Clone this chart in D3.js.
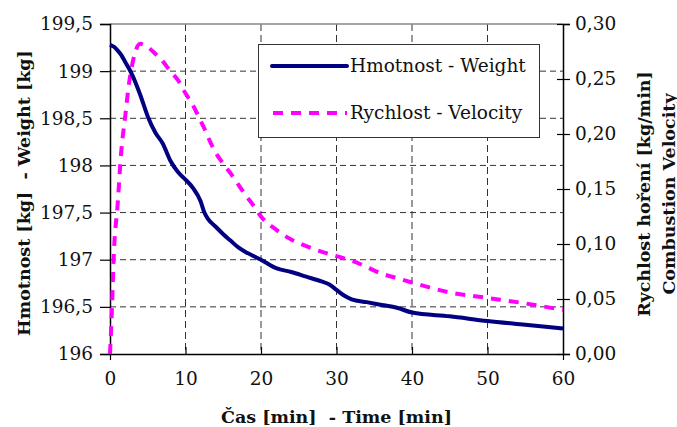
<!DOCTYPE html>
<html>
<head>
<meta charset="utf-8">
<script src="https://cdn.jsdelivr.net/npm/d3@7/dist/d3.min.js"></script>
<style>
  html, body { margin: 0; padding: 0; background: #fff; }
  svg { display: block; font-family: "DejaVu Serif", "Liberation Serif", serif; }
  text { white-space: pre; }
</style>
</head>
<body>
<svg id="chart" width="677" height="427"></svg>
<script>
// Burning test: sample weight and combustion velocity over time
const timeMin = [0, 0.25, 0.5, 1, 1.5, 2, 2.5, 3, 4, 5, 6, 7, 8, 9, 10, 11, 12, 12.5, 13, 14, 15, 16, 17, 18, 19, 20,
                 22, 24, 26, 28, 29, 30, 31, 32, 34, 36, 38, 40, 45, 50, 55, 60];
const weightKg = [199.28, 199.27, 199.26, 199.22, 199.17, 199.10, 199.03, 198.95, 198.75, 198.52, 198.35, 198.23,
                  198.05, 197.93, 197.85, 197.76, 197.62, 197.50, 197.43, 197.35, 197.27, 197.20, 197.13, 197.08,
                  197.04, 197.00, 196.91, 196.87, 196.82, 196.77, 196.74, 196.68, 196.62, 196.58, 196.55, 196.52,
                  196.49, 196.44, 196.40, 196.35, 196.31, 196.27];
const velocity = [0.000, 0.040, 0.090, 0.135, 0.185, 0.215, 0.245, 0.265, 0.282, 0.279, 0.273, 0.266,
                  0.257, 0.249, 0.237, 0.226, 0.212, 0.205, 0.197, 0.183, 0.173, 0.164, 0.154, 0.144,
                  0.135, 0.125, 0.113, 0.104, 0.098, 0.093, 0.091, 0.089, 0.087, 0.085, 0.079, 0.073,
                  0.069, 0.065, 0.056, 0.051, 0.046, 0.040];

const xTicks = [0, 10, 20, 30, 40, 50, 60];
const weightTicks = [196, 196.5, 197, 197.5, 198, 198.5, 199, 199.5];
const velocityTicks = [0, 0.05, 0.10, 0.15, 0.20, 0.25, 0.30];

const seriesNames = ["Hmotnost - Weight", "Rychlost - Velocity"];
const xTitle = "Čas [min]  - Time [min]";
const yLeftTitle = "Hmotnost [kg]  - Weight [kg]";
const yRightTitle = ["Rychlost hoření [kg/min]", "Combustion Velocity"];

const W_COLOR = "#000080", V_COLOR = "#ff00ff";

const svg = d3.select("#chart");
const plot = { left: 110, right: 563, top: 24, bottom: 354 };

const x = d3.scaleLinear().domain([0, 60]).range([plot.left, plot.right]);
const yL = d3.scaleLinear().domain([196, 199.5]).range([plot.bottom, plot.top]);
const yR = d3.scaleLinear().domain([0, 0.30]).range([plot.bottom, plot.top]);

const fmtComma = d => d3.format("")(d).replace(".", ",");
const fmtR = d => d3.format(".2f")(d).replace(".", ",");

// dashed gridlines
const grid = svg.append("g");
grid.selectAll(".hg").data(weightTicks.slice(1, -1)).join("line")
  .attr("x1", plot.left).attr("x2", plot.right)
  .attr("y1", d => yL(d)).attr("y2", d => yL(d))
  .attr("stroke", "#333").attr("stroke-width", 1).attr("stroke-dasharray", "6,4");
grid.selectAll(".vg").data(xTicks.slice(1, -1)).join("line")
  .attr("x1", d => x(d)).attr("x2", d => x(d))
  .attr("y1", plot.top).attr("y2", plot.bottom)
  .attr("stroke", "#333").attr("stroke-width", 1).attr("stroke-dasharray", "7,4");

// top frame line
svg.append("line")
  .attr("x1", plot.left).attr("x2", plot.right)
  .attr("y1", plot.top).attr("y2", plot.top)
  .attr("stroke", "#888").attr("stroke-width", 1.5);

// left axis
const axL = svg.append("g").attr("transform", `translate(${plot.left},0)`)
  .call(d3.axisLeft(yL).tickValues(weightTicks).tickFormat(fmtComma).tickSize(10).tickPadding(7));
// right axis (ticks cross the axis line)
const axR = svg.append("g").attr("transform", `translate(${plot.right},0)`)
  .call(d3.axisRight(yR).tickValues(velocityTicks).tickFormat(fmtR).tickSize(7).tickPadding(5));
axR.selectAll(".tick line").attr("x1", -6);
// bottom axis (ticks inside; end ticks outside)
const axB = svg.append("g").attr("transform", `translate(0,${plot.bottom})`)
  .call(d3.axisBottom(x).tickValues(xTicks).tickSize(0).tickPadding(18));
axB.selectAll(".tick line")
  .attr("y1", d => (d === 0 || d === 60) ? 0 : -7)
  .attr("y2", d => (d === 0 || d === 60) ? 6 : 0);

[axL, axR, axB].forEach(a => {
  a.select(".domain").attr("stroke", "#000").attr("stroke-width", 1.5);
  a.selectAll(".tick line").attr("stroke", "#000").attr("stroke-width", 1.2);
  a.selectAll("text").attr("font-family", "DejaVu Serif").attr("font-size", 18.5).attr("fill", "#111");
});

// series
const pts = timeMin.map((t, i) => ({ t, w: weightKg[i], v: velocity[i] }));
svg.append("path").datum(pts)
  .attr("fill", "none").attr("stroke", V_COLOR).attr("stroke-width", 4)
  .attr("stroke-dasharray", "10,8")
  .attr("d", d3.line().x(d => x(d.t)).y(d => yR(d.v)).curve(d3.curveMonotoneX));
svg.append("path").datum(pts)
  .attr("fill", "none").attr("stroke", W_COLOR).attr("stroke-width", 4)
  .attr("stroke-linejoin", "round")
  .attr("d", d3.line().x(d => x(d.t)).y(d => yL(d.w)).curve(d3.curveMonotoneX));

// legend
const lg = svg.append("g");
lg.append("rect").attr("x", 258.5).attr("y", 44.5).attr("width", 281).attr("height", 93)
  .attr("fill", "#fff").attr("stroke", "#333").attr("stroke-width", 1);
const items = [
  { name: seriesNames[0], color: W_COLOR, dash: null, w: 4, y: 66 },
  { name: seriesNames[1], color: V_COLOR, dash: "10,8", w: 4, y: 113 }
];
items.forEach(it => {
  lg.append("line").attr("x1", it.dash ? 273 : 272).attr("x2", 347)
    .attr("y1", it.y).attr("y2", it.y)
    .attr("stroke", it.color).attr("stroke-width", it.w)
    .attr("stroke-linecap", it.dash ? "butt" : "round")
    .attr("stroke-dasharray", it.dash);
  lg.append("text").attr("x", 350).attr("y", it.y + 6)
    .attr("font-size", 18.5).attr("fill", "#111").text(it.name);
});

// axis titles
svg.append("text").attr("x", (plot.left + plot.right) / 2).attr("y", 423)
  .attr("text-anchor", "middle").attr("font-weight", "bold").attr("font-size", 17.5)
  .attr("fill", "#111").text(xTitle);
svg.append("text").attr("transform", "translate(30,193) rotate(-90)")
  .attr("text-anchor", "middle").attr("font-weight", "bold").attr("font-size", 17.5)
  .attr("fill", "#111").text(yLeftTitle);
yRightTitle.forEach((t, i) => {
  svg.append("text").attr("transform", `translate(649.5 ,${194}) rotate(-90) translate(0,${i * 25})`)
    .attr("text-anchor", "middle").attr("font-weight", "bold").attr("font-size", 17.5)
    .attr("fill", "#111").text(t);
});
</script>
</body>
</html>
